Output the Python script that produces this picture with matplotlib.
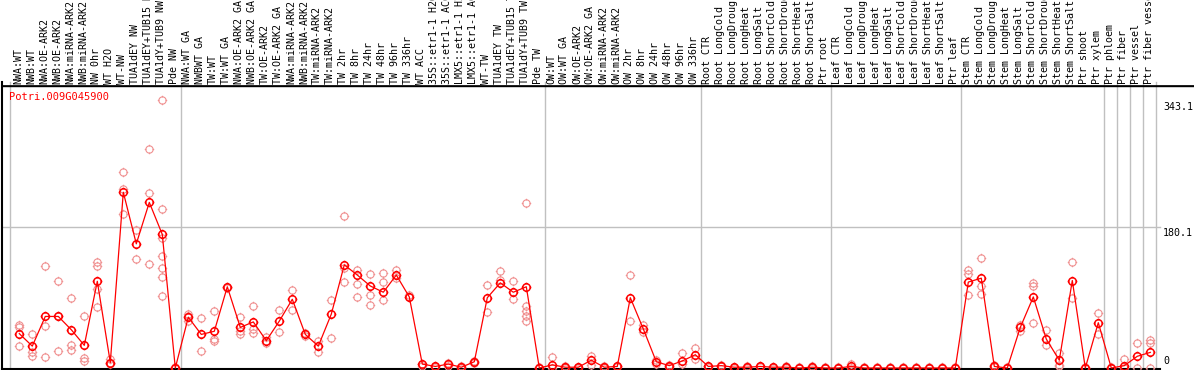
import numpy as np
import matplotlib
matplotlib.use("Agg")
import matplotlib.pyplot as plt
from matplotlib.path import Path
from matplotlib.transforms import blended_transform_factory

gene = "Potri.009G045900"

labels = [
    "NWA:WT", "NWB:WT", "NWA:OE-ARK2", "NWB:OE-ARK2", "NWA:miRNA-ARK2",
    "NWB:miRNA-ARK2", "NW 0hr", "WT H2O", "WT-NW", "TUA1dEY NW",
    "TUA1dEY+TUB15 NW", "TUA1dY+TUB9 NW", "Pde NW",
    "NWA:WT GA", "NWBWT GA", "TW:WT", "TW:WT GA", "NWA:OE-ARK2 GA",
    "NWB:OE-ARK2 GA", "TW:OE-ARK2", "TW:OE-ARK2 GA", "NWA:miRNA-ARK2",
    "NWB:miRNA-ARK2", "TW:miRNA-ARK2", "TW:miRNA-ARK2", "TW 2hr", "TW 8hr",
    "TW 24hr", "TW 48hr", "TW 96hr", "TW 336hr", "WT ACC",
    "35S::etr1-1 H2O", "35S::etr1-1 ACC", "LMX5::etr1-1 H2O",
    "LMX5::etr1-1 ACC", "WT-TW", "TUA1dEY TW", "TUA1dEY+TUB15 TW",
    "TUA1dY+TUB9 TW", "Pde TW",
    "OW:WT", "OW:WT GA", "OW:OE-ARK2", "OW:OE-ARK2 GA", "OW:miRNA-ARK2",
    "OW:miRNA-ARK2", "OW 2hr", "OW 8hr", "OW 24hr", "OW 48hr", "OW 96hr",
    "OW 336hr",
    "Root CTR", "Root LongCold", "Root LongDrought", "Root LongHeat",
    "Root LongSalt", "Root ShortCold", "Root ShortDrought", "Root ShortHeat",
    "Root ShortSalt", "Ptr root",
    "Leaf CTR", "Leaf LongCold", "Leaf LongDrought", "Leaf LongHeat",
    "Leaf LongSalt", "Leaf ShortCold", "Leaf ShortDrought", "Leaf ShortHeat",
    "Leaf ShortSalt", "Ptr leaf",
    "Stem CTR", "Stem LongCold", "Stem LongDrought", "Stem LongHeat",
    "Stem LongSalt", "Stem ShortCold", "Stem ShortDrought", "Stem ShortHeat",
    "Stem ShortSalt", "Ptr shoot",
    "Ptr xylem", "Ptr phloem", "Ptr fiber", "Ptr vessel", "Ptr fiber vessel",
]

# mean expression per sample
means = [
    44, 28, 66, 66, 49, 29, 111, 7, 225, 159, 212, 171, 0,
    65, 43, 47, 104, 52, 59, 35, 60, 88, 43, 28, 69, 132, 119,
    105, 97, 119, 91, 5, 2, 5, 1, 8, 90, 109, 97, 104, 0,
    4, 1, 1, 10, 1, 2, 90, 50, 8, 3, 9, 17,
    2, 3, 1, 1, 2, 1, 1, 0, 1, 0,
    0, 2, 0, 0, 0, 0, 0, 0, 0, 0,
    110, 115, 2, 0, 52, 91, 37, 10, 112, 0,
    58, 0, 3, 15, 20,
]

# individual replicates per sample
reps = [
    [55, 52, 28], [44, 21, 16], [130, 54, 14], [111, 22, 66], [90, 29, 23],
    [66, 13, 9], [136, 130, 101, 78], [12, 7, 5], [251, 229, 197],
    [177, 139], [280, 224, 133], [343, 203, 166, 143, 128, 117, 92], [0, 1],
    [69, 67, 60], [64, 22], [73, 37, 35], [104, 102], [65, 43, 48],
    [80, 50, 45], [40, 32], [74, 46], [100, 74], [45, 41], [34, 20],
    [87, 38], [195, 128, 110], [125, 108, 91], [120, 93, 81], [122, 110, 87],
    [125, 115], [91, 93], [5, 2], [3, 1], [6, 3], [2, 0], [9, 6],
    [106, 72], [124, 113], [112, 88], [211, 80, 73, 67, 60], [0, 1],
    [14, 0], [2, 0], [1, 0], [16, 4], [2, 0], [3, 1], [119, 60],
    [55, 46], [10, 5], [4, 1], [19, 5], [25, 12],
    [3, 1], [4, 2], [1, 0], [2, 0], [3, 1], [1, 0], [2, 0], [0, 1], [2, 0], [0, 1],
    [0, 1], [5, 0], [0, 1], [0, 1], [1, 0], [0, 1], [0, 1], [0, 1], [1, 0], [1, 0],
    [125, 120, 93], [141, 105, 95], [4, 1], [1, 0], [55, 48], [109, 105, 58],
    [49, 30], [19, 4, 2], [136, 90], [0, 1],
    [71, 44], [1, 0], [12, 0], [32, 0], [36, 32, 0],
]

# index of last sample in each group (gray separators)
group_ends = [12, 40, 52, 62, 72, 83, 84, 85, 86, 87]

ymax_label = 343.1
ymid_label = 180.1

W, H = 1194, 370
fig = plt.figure(figsize=(W / 100, H / 100), dpi=100)
top_px, bot_px, left_px = 86, 369, 2
ax = fig.add_axes([left_px / W, (H - bot_px) / H, 1 - left_px / W, (bot_px - top_px) / H])
k = ymax_label / 268.0
ax.set_ylim(-1 * k, (368 - top_px) * k)
ax.set_xlim((left_px - 19.3) / 13.0, (W - 19.3) / 13.0)
ax.set_axis_off()

mono = "DejaVu Sans Mono"
fs = 7.2
red = "#ff0000"
pink = "#f09090"

# circle with four small ticks
circ = Path.unit_circle()
ticks = []
for dx, dy in [(0, 1), (0, -1), (1, 0), (-1, 0)]:
    ticks.append(Path([[dx * 0.9, dy * 0.9], [dx * 1.3, dy * 1.3]],
                      [Path.MOVETO, Path.LINETO]))
marker = Path.make_compound_path(circ, *ticks)

x = np.arange(len(labels))
frac = (H - top_px) / (bot_px - top_px)

# separators and grid
ax.axvline((10 - 19.3) / 13.0, 0, frac + 0.01, color="#c0c0c0", lw=1, clip_on=False)
for e in group_ends:
    ax.axvline(e + 0.41, 0, frac + 0.01, color="#c0c0c0", lw=1, clip_on=False)
ax.axhline(ymid_label, 0, (1160 - left_px) / (W - left_px), color="#c0c0c0", lw=1)

# frame lines
ax.plot([0, 1], [1, 1], transform=ax.transAxes, color="black", lw=1.2, clip_on=False)
ax.plot([0, (1160 - left_px) / (W - left_px)], [0, 0], transform=ax.transAxes,
        color="black", lw=1.5, clip_on=False)
ax.plot([0, 0], [0, frac + 0.01], transform=ax.transAxes, color="black", lw=1.5, clip_on=False)
ax.plot([0, 1], [frac - 0.002, frac - 0.002], transform=ax.transAxes, color="black", lw=1, clip_on=False)

# replicate points
for i, vals in enumerate(reps):
    ax.plot([i] * len(vals), vals, linestyle="none", marker=marker, ms=6.8,
            mfc="none", mec=pink, mew=0.8, clip_on=False, zorder=2)

# mean line
ax.plot(x, means, color=red, lw=0.9, marker=marker, ms=7.0, mfc="none",
        mec=red, mew=1.1, clip_on=False, zorder=3)

# sample labels
tr = blended_transform_factory(ax.transData, ax.transAxes)
for i, lab in enumerate(labels):
    ax.text(i - 0.08, 1.008, lab, rotation=90, ha="center", va="bottom",
            family=mono, fontsize=fs, transform=tr, clip_on=False)

# gene name
ax.text(7 / (W - left_px), 1 - 11 / (bot_px - top_px), gene, color=red,
        family=mono, fontsize=fs + 0.3, ha="left", va="center", transform=ax.transAxes)

# y labels on the right
xl = (1163 - left_px) / (W - left_px)
ty = blended_transform_factory(ax.transAxes, ax.transData)
ax.text(xl, ymax_label - 2 * k, "%.1f" % ymax_label, family=mono, fontsize=fs,
        ha="left", va="top", transform=ty)
ax.text(xl, ymid_label - 1 * k, "%.1f" % ymid_label, family=mono, fontsize=fs,
        ha="left", va="top", transform=ty)
ax.text(xl, 2 * k, "0", family=mono, fontsize=fs, ha="left", va="bottom", transform=ty)

fig.savefig("out.png", dpi=100)
